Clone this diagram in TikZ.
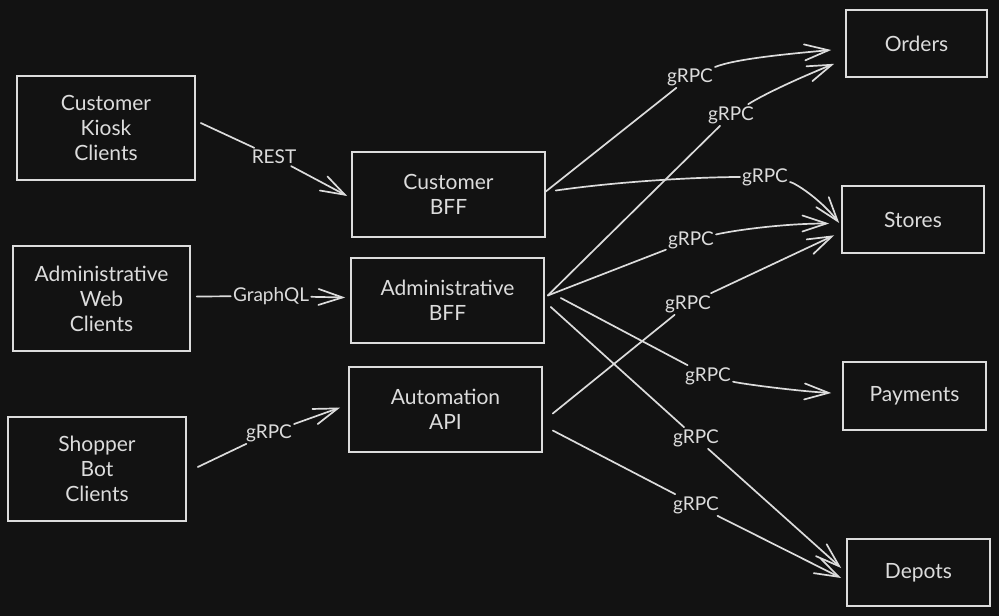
\documentclass[tikz,border=0pt]{standalone}
\usepackage{fontspec}
\setmainfont{Lato}
\usepackage{tikz}
\usetikzlibrary{calc,arrows.meta}
\usepackage{xcolor}
\definecolor{dark_bg}{HTML}{121212}
\definecolor{chalk_white}{HTML}{DCDCDC}

\tikzset{
	box/.style={draw=chalk_white, line width=1.6pt, text=chalk_white, align=center, inner sep=0pt, font=\fontsize{21}{25}\selectfont},
	lbl/.style={text=chalk_white, inner sep=2pt, font=\fontsize{19}{22}\selectfont},
	wire/.style={draw=chalk_white, line width=1.7pt, line cap=round},
	arr/.style={wire, -{Straight Barb[length=24pt, width=16pt, line cap=round]}},
}

\begin{document}
\begin{tikzpicture}[x=1pt, y=-1pt]
	\path[use as bounding box, fill=dark_bg] (0, 0) rectangle (999, 616);
	\node[box, minimum width=178, minimum height=104] (kiosk) at (106, 128) {Customer\\Kiosk\\Clients};
	\node[box, minimum width=177, minimum height=105] (adminweb) at (101.5, 298.5) {Administrative\\Web\\Clients};
	\node[box, minimum width=178, minimum height=104] (shopper) at (97, 469) {Shopper\\Bot\\Clients};
	\node[box, minimum width=193, minimum height=85] (custbff) at (448.5, 194.5) {Customer\\BFF};
	\node[box, minimum width=193, minimum height=85] (adminbff) at (447.5, 300.5) {Administrative\\BFF};
	\node[box, minimum width=193, minimum height=85] (autoapi) at (445.5, 409.5) {Automation\\API};
	\node[box, minimum width=141, minimum height=67] (orders) at (916.5, 43.5) {Orders};
	\node[box, minimum width=142, minimum height=67] (stores) at (913, 219.5) {Stores};
	\node[box, minimum width=143, minimum height=68] (payments) at (914.5, 396) {Payments};
	\node[box, minimum width=143, minimum height=67] (depots) at (918.5, 572.5) {Depots};
	\node[lbl] (rest) at (274, 157) {REST};
	\node[lbl] (graphql) at (271, 296) {GraphQL};
	\node[lbl] (botrpc) at (269, 433) {gRPC};
	\node[lbl] (rpcA) at (690, 77) {gRPC};
	\node[lbl] (rpcB) at (731, 115) {gRPC};
	\node[lbl] (rpcC) at (765, 177) {gRPC};
	\node[lbl] (rpcD) at (691, 240) {gRPC};
	\node[lbl] (rpcE) at (688, 304) {gRPC};
	\node[lbl] (rpcF) at (708, 376) {gRPC};
	\node[lbl] (rpcG) at (696, 438) {gRPC};
	\node[lbl] (rpcH) at (696, 505) {gRPC};
	\draw[wire] ([xshift=5pt, yshift=5pt]kiosk.east) -- (rest);
	\draw[arr] (rest) -- ([xshift=-4pt, yshift=-1.5pt]custbff.west);
	\draw[wire] ([xshift=6pt, yshift=2pt]adminweb.east) -- (graphql);
	\draw[arr] (graphql) -- ([xshift=-5pt, yshift=3pt]adminbff.west);
	\draw[wire] ([xshift=11pt, yshift=2pt]shopper.east) -- (botrpc);
	\draw[arr] (botrpc) -- ([xshift=-8pt, yshift=2pt]autoapi.west);
	\draw[wire] ([yshift=3pt]custbff.east) -- (rpcA);
	\draw[arr] (rpcA) .. controls +(45, -18) and +(-45, 4) .. ([xshift=-14pt, yshift=-6.5pt]orders.west);
	\draw[wire] ([xshift=3pt, yshift=5pt]adminbff.east) -- (rpcB);
	\draw[arr] (rpcB) .. controls +(35, -22) and +(-30, 12) .. ([xshift=-11pt, yshift=14pt]orders.south west);
	\draw[wire] ([xshift=10pt, yshift=4pt]custbff.east) .. controls +(70, -10) and +(-60, 0) .. (rpcC);
	\draw[arr] (rpcC) .. controls +(30, 6) and +(-20, -25) .. ([xshift=-2pt, yshift=-3.5pt]stores.west);
	\draw[wire] ([xshift=3pt, yshift=5pt]adminbff.east) -- (rpcD);
	\draw[arr] (rpcD) .. controls +(45, -10) and +(-45, 0) .. ([xshift=-12pt, yshift=-4pt]stores.west);
	\draw[wire] ([xshift=10pt, yshift=-4pt]autoapi.east) -- (rpcE);
	\draw[arr] (rpcE) -- ([xshift=-7pt, yshift=18.5pt]stores.south west);
	\draw[wire] ([xshift=16pt, yshift=2.5pt]adminbff.east) -- (rpcF);
	\draw[arr] (rpcF) .. controls +(35, 8) and +(-35, -2) .. ([xshift=-11pt, yshift=3pt]payments.west);
	\draw[wire] ([xshift=6pt, yshift=-6.5pt]adminbff.east) -- (rpcG);
	\draw[arr] (rpcG) -- ([xshift=-5pt, yshift=4.5pt]depots.west);
	\draw[wire] ([xshift=10pt, yshift=-21pt]autoapi.east) -- (rpcH);
	\draw[arr] (rpcH) -- ([xshift=-5pt, yshift=-5.5pt]depots.west);
\end{tikzpicture}
\end{document}
